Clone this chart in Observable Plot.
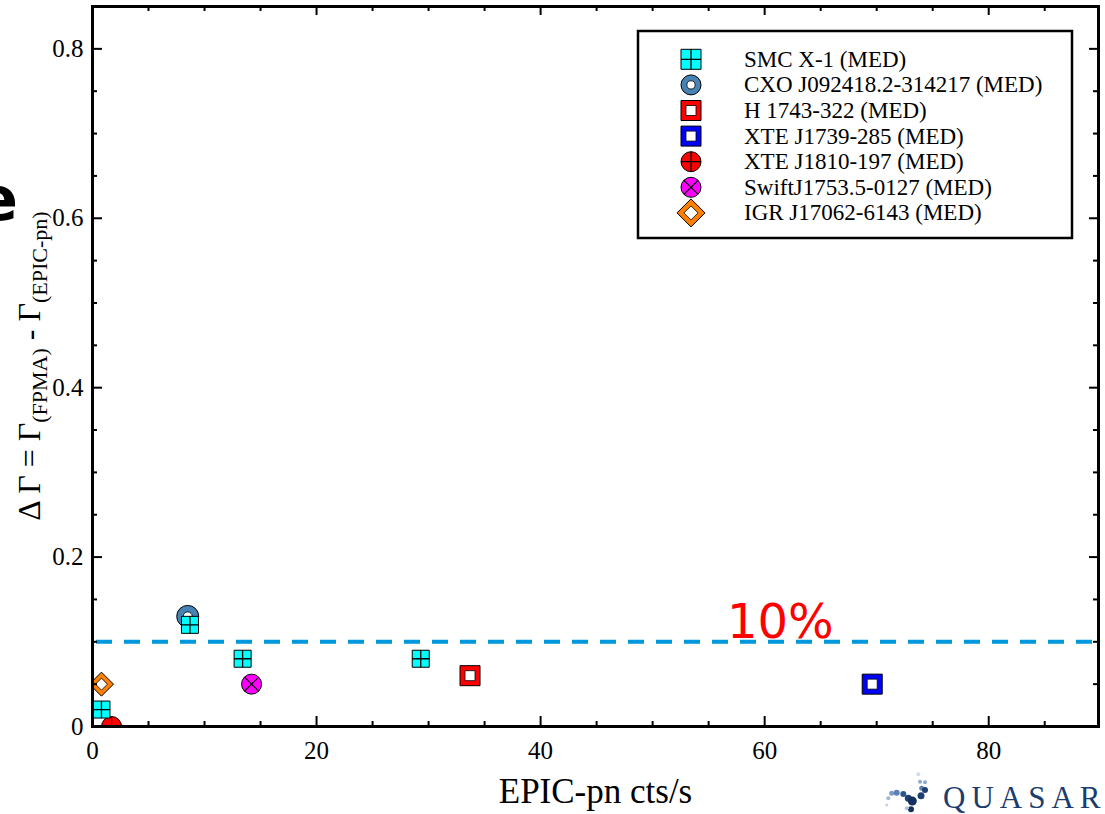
<!DOCTYPE html>
<html>
<head>
<meta charset="utf-8">
<script src="https://cdn.jsdelivr.net/npm/d3@7"></script>
<script src="https://cdn.jsdelivr.net/npm/@observablehq/plot@0.6"></script>
<style>
  body { margin: 0; background: #fff; }
  #chart { position: relative; width: 1105px; height: 814px; overflow: hidden; }
  #chart svg text.serif { font-family: "Liberation Serif", "Times New Roman", serif !important; }
</style>
</head>
<body>
<div id="chart"></div>
<script>
// ---------- data ----------
const sources = [
  "SMC X-1 (MED)",
  "CXO J092418.2-314217 (MED)",
  "H 1743-322 (MED)",
  "XTE J1739-285 (MED)",
  "XTE J1810-197 (MED)",
  "SwiftJ1753.5-0127 (MED)",
  "IGR J17062-6143 (MED)"
];
const pointSource = [
  "SMC X-1 (MED)", "SMC X-1 (MED)", "SMC X-1 (MED)", "SMC X-1 (MED)",
  "CXO J092418.2-314217 (MED)",
  "H 1743-322 (MED)",
  "XTE J1739-285 (MED)",
  "XTE J1810-197 (MED)",
  "SwiftJ1753.5-0127 (MED)",
  "IGR J17062-6143 (MED)"
];
const ctsRate    = [0.8, 8.7, 13.4, 29.3, 8.5, 33.7, 69.6, 1.7, 14.2, 0.8];
const deltaGamma = [0.02, 0.12, 0.08, 0.08, 0.13, 0.06, 0.05, 0.0, 0.05, 0.05];
const threshold = 0.1;
const thresholdLabel = "10%";
const thresholdLabelPos = [61.4, 0.105];
const xTicks = [0, 20, 40, 60, 80];
const yTicks = [0, 0.2, 0.4, 0.6, 0.8];
const xTickLabels = ["0", "20", "40", "60", "80"];
const yTickLabels = ["0", "0.2", "0.4", "0.6", "0.8"];
const xMinorTicks = [5, 10, 15, 25, 30, 35, 45, 50, 55, 65, 70, 75, 85];
const yMinorTicks = [0.05, 0.1, 0.15, 0.25, 0.3, 0.35, 0.45, 0.5, 0.55, 0.65, 0.7, 0.75];
const xLabel = "EPIC-pn cts/s";

const points = ctsRate.map((x, i) => ({x, y: deltaGamma[i], src: pointSource[i]}));

// ---------- symbols ----------
const half = s => Math.sqrt(s / Math.PI);
const SQ = {draw(c, s) { const r = half(s); c.moveTo(-r, -r); c.lineTo(r, -r); c.lineTo(r, r); c.lineTo(-r, r); c.closePath(); }};
const PLUS = {draw(c, s) { const r = half(s); c.moveTo(-r, 0); c.lineTo(r, 0); c.moveTo(0, -r); c.lineTo(0, r); }};
const TIMES = {draw(c, s) { const r = half(s) / Math.SQRT2; c.moveTo(-r, -r); c.lineTo(r, r); c.moveTo(r, -r); c.lineTo(-r, r); }};
const DIAM = {draw(c, s) { const r = half(s); c.moveTo(0, -r); c.lineTo(r, 0); c.lineTo(0, r); c.lineTo(-r, 0); c.closePath(); }};
const CIRC = {draw(c, s) { const r = half(s); c.moveTo(r, 0); c.arc(0, 0, r, 0, 2 * Math.PI); c.closePath(); }};

const styles = {
  "SMC X-1 (MED)": {k: 10 / 8.5, layers: [
    {symbol: SQ, r: 8.5, fill: "#00ffff", stroke: "#000", sw: 1},
    {symbol: PLUS, r: 8.5, fill: "none", stroke: "#000", sw: 1.3}]},
  "CXO J092418.2-314217 (MED)": {k: 10 / 11, layers: [
    {symbol: CIRC, r: 11, fill: "#4682b4", stroke: "#000", sw: 1},
    {symbol: CIRC, r: 4.5, fill: "#fff", stroke: "#000", sw: 0.8}]},
  "H 1743-322 (MED)": {k: 1, layers: [
    {symbol: SQ, r: 10, fill: "#ff0000", stroke: "#000", sw: 1},
    {symbol: SQ, r: 5, fill: "#fff", stroke: "#000", sw: 0.8}]},
  "XTE J1739-285 (MED)": {k: 1, layers: [
    {symbol: SQ, r: 10, fill: "#0000ff", stroke: "#000", sw: 1},
    {symbol: SQ, r: 5, fill: "#fff", stroke: "#000", sw: 0.8}]},
  "XTE J1810-197 (MED)": {k: 1, layers: [
    {symbol: CIRC, r: 10, fill: "#ff0000", stroke: "#000", sw: 1},
    {symbol: PLUS, r: 10, fill: "none", stroke: "#000", sw: 1.2}]},
  "SwiftJ1753.5-0127 (MED)": {k: 1, layers: [
    {symbol: CIRC, r: 10, fill: "#ff00ff", stroke: "#000", sw: 1},
    {symbol: TIMES, r: 10, fill: "none", stroke: "#000", sw: 1.2}]},
  "IGR J17062-6143 (MED)": {k: 14 / 12, layers: [
    {symbol: DIAM, r: 12, fill: "#ff8000", stroke: "#000", sw: 1},
    {symbol: DIAM, r: 6, fill: "#fff", stroke: "#000", sw: 0.8}]}
};

// ---------- layout ----------
const W = 1105, H = 814;
const mL = 92, mR = 7, mT = 6, mB = 88;
const plotW = W - mL - mR, plotH = H - mT - mB;
const SERIF = "Liberation Serif";

const pointMarks = [];
[...sources].reverse().forEach(src => {
  const data = points.filter(p => p.src === src);
  styles[src].layers.forEach(L => {
    pointMarks.push(Plot.dot(data, {
      x: "x", y: "y", symbol: L.symbol, r: L.r,
      fill: L.fill, stroke: L.stroke, strokeWidth: L.sw, clip: true
    }));
  });
});

const chart = Plot.plot({
  width: W, height: H,
  marginLeft: mL, marginRight: mR, marginTop: mT, marginBottom: mB,
  style: {fontFamily: SERIF, fontSize: "25px", background: "#fff", color: "#000"},
  x: {domain: [0, 89.8], label: null, axis: null},
  y: {domain: [0, 0.85], label: null, axis: null},
  marks: [
    Plot.ruleY([threshold], {stroke: "#0099dd", strokeWidth: 4, strokeDasharray: "16,12", insetLeft: 4, insetRight: 3}),
    Plot.text([thresholdLabel], {x: () => thresholdLabelPos[0], y: () => thresholdLabelPos[1], text: d => d,
      fill: "#ff0000", fontSize: 48, fontFamily: "DejaVu Sans", textAnchor: "middle", lineAnchor: "bottom"}),
    ...pointMarks,
    // tick labels
    Plot.text(xTicks, {x: d => d, frameAnchor: "bottom", dy: 32, lineAnchor: "bottom", textAnchor: "middle",
      text: (d, i) => xTickLabels[i], fill: "#000", fontFamily: SERIF, fontSize: 25}),
    Plot.text(yTicks, {y: d => d, frameAnchor: "left", dx: -9, textAnchor: "end", lineAnchor: "middle",
      text: (d, i) => yTickLabels[i], fill: "#000", fontFamily: SERIF, fontSize: 25}),
    // inward ticks
    Plot.ruleX(xTicks, {x: d => d, stroke: "#000", strokeWidth: 2, insetTop: plotH - 10}),
    Plot.ruleX(xMinorTicks, {x: d => d, stroke: "#000", strokeWidth: 2, insetTop: plotH - 5}),
    Plot.ruleX(xTicks, {x: d => d, stroke: "#000", strokeWidth: 2, insetBottom: plotH - 9}),
    Plot.ruleX(xMinorTicks, {x: d => d, stroke: "#000", strokeWidth: 2, insetBottom: plotH - 5}),
    Plot.ruleY(yTicks, {y: d => d, stroke: "#000", strokeWidth: 2, insetRight: plotW - 10}),
    Plot.ruleY(yMinorTicks, {y: d => d, stroke: "#000", strokeWidth: 2, insetRight: plotW - 5}),
    Plot.ruleY(yTicks, {y: d => d, stroke: "#000", strokeWidth: 2, insetLeft: plotW - 9}),
    Plot.ruleY(yMinorTicks, {y: d => d, stroke: "#000", strokeWidth: 2, insetLeft: plotW - 5}),
    Plot.frame({stroke: "#000", strokeWidth: 3})
  ]
});

document.getElementById("chart").appendChild(chart);
const svg = d3.select(chart);
svg.style("font-variant", "normal");

// x-axis title
svg.append("text").attr("class", "serif")
  .attr("x", 595.5).attr("y", 803)
  .attr("text-anchor", "middle")
  .style("font-size", "35px").attr("fill", "#000")
  .text(xLabel);

// y-axis title with subscripts
const yt = svg.append("text").attr("class", "serif")
  .attr("transform", `translate(40,${mT + plotH / 2}) rotate(-90)`)
  .attr("text-anchor", "middle")
  .style("font-size", "32px")
  .style("white-space", "pre").attr("fill", "#000");
yt.append("tspan").text("\u0394 \u0393 = \u0393");
yt.append("tspan").attr("dy", 7).style("font-size", "22px").text("(FPMA)");
yt.append("tspan").attr("dy", -7).text(" - \u0393");
yt.append("tspan").attr("dy", 7).style("font-size", "22px").text("(EPIC-pn)");

// legend
const lg = svg.append("g");
lg.append("rect").attr("x", 638).attr("y", 31).attr("width", 434).attr("height", 207)
  .attr("fill", "#fff").attr("stroke", "#000").attr("stroke-width", 2.5);
sources.forEach((src, i) => {
  const cy = 59.3 + i * 25.6, cx = 691;
  const st = styles[src];
  st.layers.forEach(L => {
    const rr = L.r * st.k;
    lg.append("path").attr("transform", `translate(${cx},${cy})`)
      .attr("d", d3.symbol(L.symbol, rr * rr * Math.PI)())
      .attr("fill", L.fill).attr("stroke", L.stroke).attr("stroke-width", L.sw);
  });
  lg.append("text").attr("class", "serif").attr("x", 744).attr("y", cy + 7.5).attr("text-anchor", "start")
    .style("font-size", "23px").attr("fill", "#000")
    .text(src);
});

// cropped letter at left edge (part of the slide)
svg.append("text").attr("x", 18).attr("y", 220).attr("text-anchor", "end")
  .style("font-family", "'DejaVu Sans', sans-serif").style("font-size", "60px").style("font-weight", "bold")
  .attr("fill", "#000").text("e");

// QUASAR logo
const logo = svg.append("g");
const logoDots = [
  [886.7, 805, 1.5, "#c5d3e6"], [888.3, 798.3, 2, "#9fb8d8"], [891.7, 793.3, 2.5, "#7b9cc8"],
  [896.7, 792.7, 3, "#5b82b8"], [903.3, 794, 3, "#2f578f"], [908.3, 798.3, 3.5, "#1f3f72"],
  [912.3, 801, 4.5, "#13305f"], [911, 809.3, 3, "#13305f"], [906.7, 808.3, 2, "#b0c4de"],
  [918.3, 774.3, 2, "#d0dcea"], [920, 781.7, 2, "#8eaad0"], [925, 782.3, 2, "#8eaad0"],
  [921.7, 788.3, 2.5, "#5b82b8"], [925, 790, 3, "#1f3f72"], [921, 795.7, 3.5, "#1f3f72"]
];
logoDots.forEach(([x, y, r, c]) => logo.append("circle").attr("cx", x).attr("cy", y).attr("r", r).attr("fill", c));
logo.append("text").attr("class", "serif").attr("x", 943).attr("y", 808).attr("text-anchor", "start")
  .style("font-size", "31px").style("letter-spacing", "6px")
  .attr("fill", "#1a3c6e").text("QUASAR");
</script>
</body>
</html>
